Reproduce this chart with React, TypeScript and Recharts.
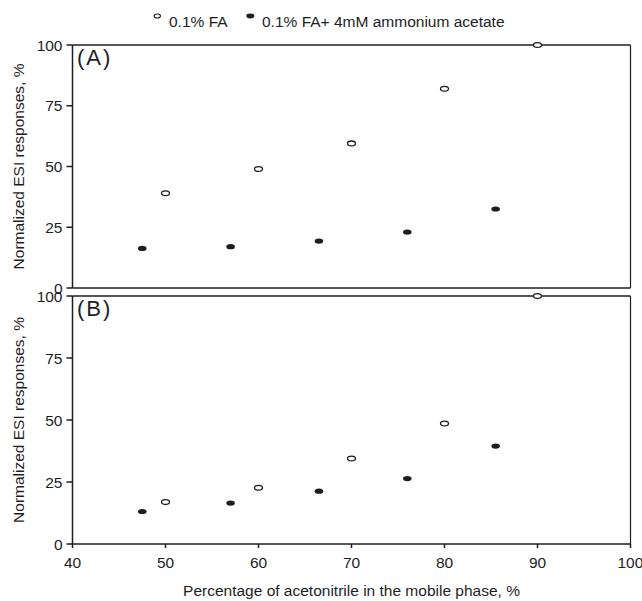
import { ScatterChart, Scatter, XAxis, YAxis, ReferenceLine } from "recharts";

// acetonitrile %, one list per series
const faX = [50, 60, 70, 80, 90];
const ammX = [47.5, 57, 66.5, 76, 85.5];

// panel (A)
const topFA = [39, 49, 59.5, 82, 100];
const topAmm = [16.3, 17, 19.3, 23, 32.5];

// panel (B)
const bottomFA = [16.9, 22.7, 34.5, 48.6, 100];
const bottomAmm = [13.1, 16.5, 21.3, 26.4, 39.5];

const xTicks = [40, 50, 60, 70, 80, 90, 100];
const yTicks = [0, 25, 50, 75, 100];

const seriesNames = ["0.1% FA", "0.1% FA+ 4mM ammonium acetate"];

const INK = "#1e1e1e";
const FONT = "'Liberation Sans', Arial, sans-serif";
const FS = 15.5;

const toPoints = (xs: number[], ys: number[]) => xs.map((x, i) => ({ x, y: ys[i] }));

const OpenDot = (props: any) => (
  <ellipse cx={props.cx} cy={props.cy} rx={4} ry={2.4} fill="#fff" stroke={INK} strokeWidth={1.3} />
);
const FilledDot = (props: any) => (
  <ellipse cx={props.cx} cy={props.cy} rx={4.3} ry={2.6} fill={INK} />
);

const yLabel = {
  value: "Normalized ESI responses, %",
  angle: -90,
  position: "insideLeft" as const,
  offset: 18,
  style: { textAnchor: "middle", fontSize: FS, fill: INK, fontFamily: FONT },
};

function Panel({
  fa,
  amm,
  top,
  height,
  marginTop,
  bottomAxis,
  tag,
}: {
  fa: number[];
  amm: number[];
  top: number;
  height: number;
  marginTop: number;
  bottomAxis: boolean;
  tag: string;
}) {
  return (
    <div style={{ position: "absolute", left: 0, top }}>
      <ScatterChart
        width={642}
        height={height}
        margin={{ top: marginTop, right: 11.5, bottom: 0, left: 0 }}
      >
        {bottomAxis ? (
          <XAxis
            type="number"
            dataKey="x"
            domain={[40, 100]}
            ticks={xTicks}
            height={57}
            tickSize={4}
            tickMargin={9}
            stroke={INK}
            strokeWidth={1.5}
            tick={{ fontSize: FS, fill: INK, fontFamily: FONT }}
            label={{
              value: "Percentage of acetonitrile in the mobile phase, %",
              position: "insideBottom",
              offset: 5,
              style: { fontSize: FS, fill: INK, fontFamily: FONT },
            }}
          />
        ) : (
          <XAxis
            type="number"
            dataKey="x"
            domain={[40, 100]}
            ticks={xTicks}
            height={12}
            tickSize={3}
            stroke={INK}
            strokeWidth={1.5}
            tick={false}
          />
        )}
        <YAxis
          type="number"
          dataKey="y"
          domain={[0, 100]}
          ticks={yTicks}
          width={72.5}
          tickSize={6}
          tickMargin={4}
          stroke={INK}
          strokeWidth={1.5}
          tick={{ fontSize: FS, fill: INK, fontFamily: FONT }}
          label={yLabel}
        />
        <ReferenceLine y={100} stroke={INK} strokeWidth={1.5} />
        <ReferenceLine x={100} stroke={INK} strokeWidth={1.2} />
        <Scatter
          name={seriesNames[0]}
          data={toPoints(faX, fa)}
          shape={OpenDot}
          isAnimationActive={false}
        />
        <Scatter
          name={seriesNames[1]}
          data={toPoints(ammX, amm)}
          shape={FilledDot}
          isAnimationActive={false}
        />
      </ScatterChart>
      <div
        style={{
          position: "absolute",
          left: 77,
          top: marginTop + 2,
          fontSize: 22,
          lineHeight: 1,
          letterSpacing: 2,
          color: INK,
          fontFamily: FONT,
        }}
      >
        {tag}
      </div>
    </div>
  );
}

export default function App() {
  return (
    <div
      style={{
        position: "absolute",
        left: 0,
        top: 0,
        width: 642,
        height: 601,
        background: "#fff",
        fontFamily: FONT,
      }}
    >
      {/* legend */}
      <svg style={{ position: "absolute", left: 152.2, top: 12 }} width={11} height={8}>
        <ellipse cx={5.3} cy={4} rx={3.2} ry={2} fill="#fff" stroke={INK} strokeWidth={1.2} />
      </svg>
      <div style={{ position: "absolute", left: 169, top: 13.6, fontSize: FS, lineHeight: 1, color: INK }}>
        {seriesNames[0]}
      </div>
      <svg style={{ position: "absolute", left: 245.2, top: 12 }} width={11} height={8}>
        <ellipse cx={5.3} cy={4} rx={4} ry={2.4} fill={INK} />
      </svg>
      <div style={{ position: "absolute", left: 262, top: 13.6, fontSize: FS, lineHeight: 1, color: INK }}>
        {seriesNames[1]}
      </div>

      <Panel fa={topFA} amm={topAmm} top={0} height={300} marginTop={45} bottomAxis={false} tag="(A)" />
      <Panel fa={bottomFA} amm={bottomAmm} top={280} height={321} marginTop={16} bottomAxis tag="(B)" />
    </div>
  );
}
